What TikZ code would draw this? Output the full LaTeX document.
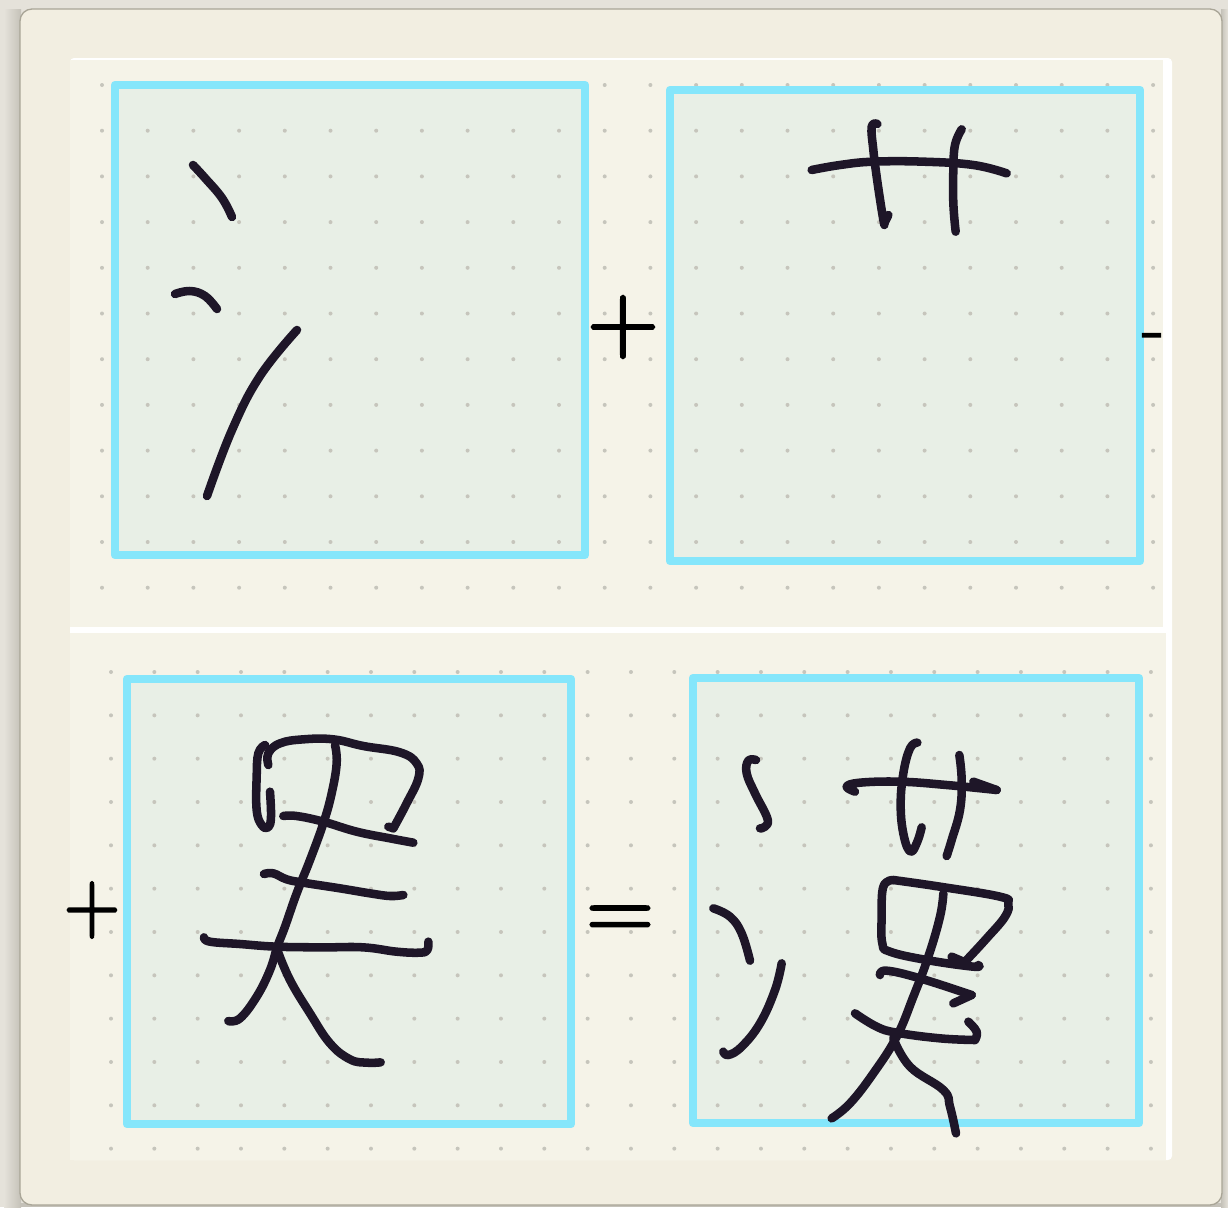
\documentclass[tikz,border=0pt]{standalone}
\usepackage{fontspec}
\newfontfamily\signfont[FakeBold=2.5]{Latin Modern Roman}
\definecolor{deskbg}{HTML}{E5E2DA}
\definecolor{deskdark}{HTML}{C4C1B8}
\definecolor{paper}{HTML}{F2EEE1}
\definecolor{paperedge}{HTML}{A9A597}
\definecolor{sheet}{HTML}{F5F3E8}
\definecolor{tile}{HTML}{E8EFE6}
\definecolor{cyanline}{HTML}{85E6FB}
\definecolor{inkdark}{HTML}{1E1628}
\definecolor{dotgrey}{HTML}{C6C5BC}
\tikzset{
  tilebox/.style={draw=cyanline,line width=6.3pt,line join=round},
  tilefill/.style={fill=tile},
  inkline/.style={draw=inkdark,line width=6.4pt,line cap=round,line join=round},
  signnode/.style={inner sep=0pt,text=black},
  griddot/.style={fill=dotgrey},
}
\newcommand{\inkplot}[1]{\draw[inkline] plot[smooth,tension=0.7] coordinates {#1};}
\begin{document}
\begin{tikzpicture}[x=.75pt,y=-.75pt]
\useasboundingbox (0,0) rectangle (1228,1207);
% desk
\fill[deskbg] (0,0) rectangle (1228,1207);
\shade[left color=deskbg,right color=deskdark] (4,9) rectangle (21,1207);
\shade[left color=deskdark,right color=deskbg] (1221,9) rectangle (1228,1207);
\fill[deskdark] (20,1203) rectangle (1222,1207);
% paper
\draw[paperedge,line width=1pt,fill=paper,rounded corners=9pt] (20,9) rectangle (1222,1205);
% sheet
\fill[white,rounded corners=3pt] (70,58) rectangle (1172,1160);
\fill[sheet] (70,60) rectangle (1163,627);
\fill[sheet] (70,633) rectangle (1166,1160);
% tile fills
\fill[tilefill] (115,85) rectangle (585,555);
\fill[tilefill] (670,90) rectangle (1140,561);
\fill[tilefill] (127,679) rectangle (571,1124);
\fill[tilefill] (693,678) rectangle (1139,1123);
% dots
\foreach \i in {0,...,23}{\foreach \j in {0,...,11}{
  \fill[griddot] ({102+45.7*\i},{85+45.7*\j}) circle (2);}}
\foreach \i in {0,...,24}{\foreach \j in {0,...,11}{
  \fill[griddot] ({111+43.33*\i},{672+43.33*\j}) circle (2);}}
% tile borders
\draw[tilebox] (115,85) rectangle (585,555);
\draw[tilebox] (670,90) rectangle (1140,561);
\draw[tilebox] (127,679) rectangle (571,1124);
\draw[tilebox] (693,678) rectangle (1139,1123);
% tile 1
\inkplot{(193,165) (205,178) (222,198) (232,217)}
\inkplot{(175,294) (190,291) (205,296) (217,309)}
\inkplot{(297,330) (260,376) (232,430) (207,496)}
% tile 2
\begin{scope}[x=.25pt,y=-.25pt,shift={(2370,330)}]
\inkplot{(65,180) (150,165) (250,155) (400,155) (550,165) (650,190)}
\inkplot{(262,42) (245,50) (250,120) (260,200) (275,300) (283,345)}
\inkplot{(283,340) (295,315)}
\inkplot{(515,58) (495,105) (490,180) (490,280) (497,365)}
\end{scope}
% tile 3
\begin{scope}[x=.25pt,y=-.25pt,shift={(570,2160)}]
\inkplot{(235,135) (235,100) (270,70) (340,58) (430,58) (520,78) (630,97) (680,130) (685,175) (650,250) (610,325)}
\inkplot{(610,325) (595,320)}
\inkplot{(225,75) (205,100) (200,170) (200,270) (215,315) (235,322) (243,290) (240,215)}
\inkplot{(435,75) (440,130) (425,220) (400,310) (360,420) (320,520) (285,620) (262,680) (240,750) (200,830) (150,895) (115,903)}
\inkplot{(280,288) (320,288) (400,305) (500,335) (600,355) (670,368)}
\inkplot{(222,462) (250,460) (290,478) (340,488) (450,505) (540,520) (600,528) (640,525)}
\inkplot{(42,652) (60,665) (150,672) (260,680) (400,682) (520,682) (620,695) (690,698) (712,690) (715,665)}
\inkplot{(262,690) (300,780) (360,880) (420,970) (480,1018) (530,1028) (572,1027)}
\end{scope}
% tile 4
\begin{scope}[x=.25pt,y=-.25pt,shift={(2040,2190)}]
\inkplot{(228,90) (205,92) (200,130) (225,190) (262,265) (255,290) (240,295)}
\inkplot{(100,535) (150,560) (185,610) (210,692)}
\inkplot{(305,700) (285,780) (240,880) (185,950) (145,975) (130,965)}
\inkplot{(525,185) (500,170) (540,158) (660,155) (800,165) (950,180)}
\inkplot{(880,155) (950,180)}
\inkplot{(712,38) (690,55) (670,130) (662,230) (672,320) (692,365) (712,335) (725,292)}
\inkplot{(838,75) (845,150) (840,240) (815,330) (800,378)}
\inkplot{(640,450) (780,470) (960,500) (985,520) (975,560) (920,625) (860,690)}
\inkplot{(640,450) (610,470) (605,560) (607,640) (630,665) (740,690) (880,710) (895,705)}
\inkplot{(815,680) (850,695)}
\inkplot{(790,490) (780,560) (745,680) (700,800) (650,920) (580,1030) (510,1120) (455,1165)}
\inkplot{(640,925) (690,1010) (790,1080) (810,1130) (828,1210)}
\inkplot{(600,735) (620,722) (720,745) (875,795)}
\inkplot{(875,795) (820,820)}
\inkplot{(525,850) (590,890) (650,908) (780,925) (885,930)}
\inkplot{(885,930) (890,905) (865,875)}
\end{scope}
% signs
\node[signnode,font=\signfont\fontsize{74}{74}\selectfont] (plusA) at (623,327) {+};
\node[signnode,font=\signfont\fontsize{58}{58}\selectfont,yscale=1.15] (plusB) at (92,910) {+};
\node[signnode,font=\signfont\fontsize{70}{70}\selectfont] (equalsA) at (620,923) {=};
\node[signnode,font=\signfont\fontsize{52}{52}\selectfont] (dashA) at (1153,342) {-};
\end{tikzpicture}
\end{document}
